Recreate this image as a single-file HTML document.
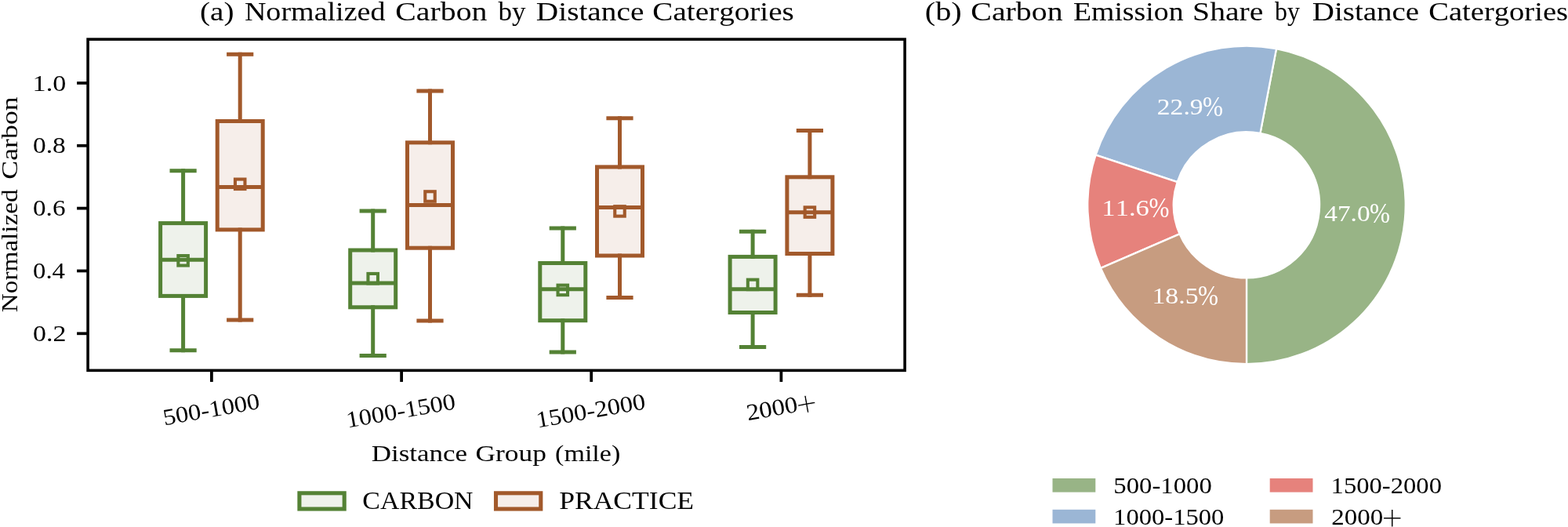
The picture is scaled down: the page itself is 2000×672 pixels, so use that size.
<!DOCTYPE html>
<html lang="en"><head><meta charset="utf-8"><title>Carbon by Distance Categories</title>
<style>html,body{margin:0;padding:0;background:#fff;}body{width:2000px;height:672px;overflow:hidden;}svg{display:block;}text{font-family:"Liberation Serif","DejaVu Serif",serif;word-spacing:0.09em;font-kerning:none;}</style></head><body>
<svg width="2000" height="672" viewBox="0 0 2000 672">
<rect x="0" y="0" width="2000" height="672" fill="#ffffff"/>
<g stroke="#548235" stroke-width="5.0" fill="none">
<rect x="204.60" y="284.60" width="58.00" height="92.80" fill="#EEF2EB" stroke-linejoin="miter"/>
<path d="M233.60 284.60V217.80M233.60 377.40V446.70" stroke-linecap="square"/>
<path d="M219.00 217.80H248.20M219.00 446.70H248.20" stroke-linecap="square"/>
<path d="M204.60 331.30H262.60" stroke-linecap="butt"/>
<rect x="227.35" y="326.05" width="12.5" height="12.5" stroke-width="4.1"/>
</g>
<g stroke="#A2592B" stroke-width="5.0" fill="none">
<rect x="277.20" y="154.50" width="58.00" height="138.40" fill="#F6EEEA" stroke-linejoin="miter"/>
<path d="M306.20 154.50V69.30M306.20 292.90V408.00" stroke-linecap="square"/>
<path d="M291.60 69.30H320.80M291.60 408.00H320.80" stroke-linecap="square"/>
<path d="M277.20 238.40H335.20" stroke-linecap="butt"/>
<rect x="299.95" y="228.55" width="12.5" height="12.5" stroke-width="4.1"/>
</g>
<g stroke="#548235" stroke-width="5.0" fill="none">
<rect x="446.70" y="319.00" width="58.00" height="72.80" fill="#EEF2EB" stroke-linejoin="miter"/>
<path d="M475.70 319.00V269.10M475.70 391.80V453.40" stroke-linecap="square"/>
<path d="M461.10 269.10H490.30M461.10 453.40H490.30" stroke-linecap="square"/>
<path d="M446.70 361.00H504.70" stroke-linecap="butt"/>
<rect x="469.45" y="348.95" width="12.5" height="12.5" stroke-width="4.1"/>
</g>
<g stroke="#A2592B" stroke-width="5.0" fill="none">
<rect x="519.50" y="181.80" width="58.00" height="134.40" fill="#F6EEEA" stroke-linejoin="miter"/>
<path d="M548.50 181.80V116.00M548.50 316.20V409.00" stroke-linecap="square"/>
<path d="M533.90 116.00H563.10M533.90 409.00H563.10" stroke-linecap="square"/>
<path d="M519.50 261.50H577.50" stroke-linecap="butt"/>
<rect x="542.25" y="244.25" width="12.5" height="12.5" stroke-width="4.1"/>
</g>
<g stroke="#548235" stroke-width="5.0" fill="none">
<rect x="688.80" y="335.50" width="58.00" height="73.20" fill="#EEF2EB" stroke-linejoin="miter"/>
<path d="M717.80 335.50V291.00M717.80 408.70V448.90" stroke-linecap="square"/>
<path d="M703.20 291.00H732.40M703.20 448.90H732.40" stroke-linecap="square"/>
<path d="M688.80 368.80H746.80" stroke-linecap="butt"/>
<rect x="711.55" y="363.65" width="12.5" height="12.5" stroke-width="4.1"/>
</g>
<g stroke="#A2592B" stroke-width="5.0" fill="none">
<rect x="761.50" y="212.90" width="58.00" height="113.10" fill="#F6EEEA" stroke-linejoin="miter"/>
<path d="M790.50 212.90V150.70M790.50 326.00V379.60" stroke-linecap="square"/>
<path d="M775.90 150.70H805.10M775.90 379.60H805.10" stroke-linecap="square"/>
<path d="M761.50 264.40H819.50" stroke-linecap="butt"/>
<rect x="784.25" y="263.15" width="12.5" height="12.5" stroke-width="4.1"/>
</g>
<g stroke="#548235" stroke-width="5.0" fill="none">
<rect x="931.10" y="327.40" width="58.00" height="71.10" fill="#EEF2EB" stroke-linejoin="miter"/>
<path d="M960.10 327.40V295.30M960.10 398.50V442.40" stroke-linecap="square"/>
<path d="M945.50 295.30H974.70M945.50 442.40H974.70" stroke-linecap="square"/>
<path d="M931.10 368.70H989.10" stroke-linecap="butt"/>
<rect x="953.85" y="356.65" width="12.5" height="12.5" stroke-width="4.1"/>
</g>
<g stroke="#A2592B" stroke-width="5.0" fill="none">
<rect x="1003.90" y="225.80" width="58.00" height="97.70" fill="#F6EEEA" stroke-linejoin="miter"/>
<path d="M1032.90 225.80V166.40M1032.90 323.50V376.20" stroke-linecap="square"/>
<path d="M1018.30 166.40H1047.50M1018.30 376.20H1047.50" stroke-linecap="square"/>
<path d="M1003.90 270.70H1061.90" stroke-linecap="butt"/>
<rect x="1026.65" y="264.35" width="12.5" height="12.5" stroke-width="4.1"/>
</g>
<g stroke="#000" stroke-width="3.75" fill="none">
<path d="M98.10 105.90H112.10"/>
<path d="M98.10 185.75H112.10"/>
<path d="M98.10 265.60H112.10"/>
<path d="M98.10 345.45H112.10"/>
<path d="M98.10 425.30H112.10"/>
<path d="M269.90 472.35V486.95"/>
<path d="M512.10 472.35V486.95"/>
<path d="M754.20 472.35V486.95"/>
<path d="M996.40 472.35V486.95"/>
</g>
<rect x="112.1" y="50.1" width="1042.00" height="422.25" fill="none" stroke="#000" stroke-width="3.6" stroke-linejoin="miter"/>
<text x="41.61" y="115.60" font-size="29.5" textLength="42.59" lengthAdjust="spacingAndGlyphs">1.0</text>
<text x="42.03" y="195.45" font-size="29.5" textLength="41.74" lengthAdjust="spacingAndGlyphs">0.8</text>
<text x="42.04" y="275.30" font-size="29.5" textLength="41.45" lengthAdjust="spacingAndGlyphs">0.6</text>
<text x="42.05" y="355.15" font-size="29.5" textLength="40.96" lengthAdjust="spacingAndGlyphs">0.4</text>
<text x="42.01" y="435.00" font-size="29.5" textLength="42.36" lengthAdjust="spacingAndGlyphs">0.2</text>
<text x="207.21" y="531.70" font-size="29.5" textLength="124.53" lengthAdjust="spacingAndGlyphs" transform="rotate(-10 269.8 522.0)">500-1000</text>
<text x="440.84" y="533.30" font-size="29.5" textLength="140.90" lengthAdjust="spacingAndGlyphs" transform="rotate(-10 512.1 523.6)">1000-1500</text>
<text x="682.94" y="533.30" font-size="29.5" textLength="140.90" lengthAdjust="spacingAndGlyphs" transform="rotate(-10 754.2 523.6)">1500-2000</text>
<text font-size="29.5" transform="translate(955.3 536.0) rotate(-10)"><tspan x="-1.45" y="0.00" textLength="65.90" lengthAdjust="spacingAndGlyphs">2000</tspan><tspan x="62.54" y="8.34" font-size="48.0" stroke="#ffffff" stroke-width="0.9" paint-order="fill stroke">+</tspan></text>
<text y="26.20" font-size="33.2"><tspan x="255.08" textLength="43.44" lengthAdjust="spacingAndGlyphs">(a)</tspan> <tspan x="311.90" textLength="179.56" lengthAdjust="spacingAndGlyphs">Normalized</tspan> <tspan x="504.37" textLength="117.03" lengthAdjust="spacingAndGlyphs">Carbon</tspan> <tspan x="635.50" textLength="35.14" lengthAdjust="spacingAndGlyphs">by</tspan> <tspan x="683.87" textLength="137.49" lengthAdjust="spacingAndGlyphs">Distance</tspan> <tspan x="832.39" textLength="180.42" lengthAdjust="spacingAndGlyphs">Catergories</tspan></text>
<text y="26.20" font-size="33.2"><tspan x="1179.83" textLength="46.94" lengthAdjust="spacingAndGlyphs">(b)</tspan> <tspan x="1238.37" textLength="117.24" lengthAdjust="spacingAndGlyphs">Carbon</tspan> <tspan x="1368.91" textLength="140.66" lengthAdjust="spacingAndGlyphs">Emission</tspan> <tspan x="1521.10" textLength="90.28" lengthAdjust="spacingAndGlyphs">Share</tspan> <tspan x="1626.00" textLength="31.92" lengthAdjust="spacingAndGlyphs">by</tspan> <tspan x="1673.88" textLength="136.22" lengthAdjust="spacingAndGlyphs">Distance</tspan> <tspan x="1822.17" textLength="177.98" lengthAdjust="spacingAndGlyphs">Catergories</tspan></text>
<text y="588.30" font-size="29.2"><tspan x="473.74" textLength="122.37" lengthAdjust="spacingAndGlyphs">Distance</tspan> <tspan x="606.45" textLength="90.54" lengthAdjust="spacingAndGlyphs">Group</tspan> <tspan x="708.10" textLength="83.19" lengthAdjust="spacingAndGlyphs">(mile)</tspan></text>
<text y="0.00" font-size="29.2" transform="translate(21.5 397.3) rotate(-90)"><tspan x="-0.96" textLength="156.96" lengthAdjust="spacingAndGlyphs">Normalized</tspan> <tspan x="168.63" textLength="105.41" lengthAdjust="spacingAndGlyphs">Carbon</tspan></text>
<rect x="381.9" y="628.8" width="57.3" height="20.2" fill="#EEF2EB" stroke="#548235" stroke-width="5.1"/>
<text x="462.36" y="649.30" font-size="31" textLength="141.22" lengthAdjust="spacingAndGlyphs">CARBON</text>
<rect x="632.5" y="628.8" width="57.3" height="20.2" fill="#F6EEEA" stroke="#A2592B" stroke-width="5.1"/>
<text x="713.18" y="649.30" font-size="31" textLength="171.90" lengthAdjust="spacingAndGlyphs">PRACTICE</text>
<g stroke="#ffffff" stroke-width="2.3" stroke-linejoin="miter">
<path d="M1590.00 464.15A202.75 202.75 0 0 0 1627.99 62.24L1607.44 170.00A93.05 93.05 0 0 1 1590.00 354.45Z" fill="#98B486"/>
<path d="M1627.99 62.24A202.75 202.75 0 0 0 1397.57 197.54L1501.69 232.09A93.05 93.05 0 0 1 1607.44 170.00Z" fill="#9BB6D5"/>
<path d="M1397.57 197.54A202.75 202.75 0 0 0 1403.93 341.92L1504.60 298.35A93.05 93.05 0 0 1 1501.69 232.09Z" fill="#E6827C"/>
<path d="M1403.93 341.92A202.75 202.75 0 0 0 1590.00 464.15L1590.00 354.45A93.05 93.05 0 0 1 1504.60 298.35Z" fill="#C79C80"/>
</g>
<text font-size="29.5" fill="#ffffff"><tspan x="1689.25" y="281.90" textLength="58.32" lengthAdjust="spacingAndGlyphs">47.0</tspan><tspan x="1747.04" y="283.60" font-size="35.0" textLength="25.93" lengthAdjust="spacingAndGlyphs">%</tspan></text>
<text font-size="29.5" fill="#ffffff"><tspan x="1475.82" y="146.30" textLength="58.75" lengthAdjust="spacingAndGlyphs">22.9</tspan><tspan x="1533.94" y="148.00" font-size="35.0" textLength="25.93" lengthAdjust="spacingAndGlyphs">%</tspan></text>
<text font-size="29.5" fill="#ffffff"><tspan x="1405.36" y="275.20" textLength="60.47" lengthAdjust="spacingAndGlyphs">11.6</tspan><tspan x="1465.54" y="276.90" font-size="35.0" textLength="25.93" lengthAdjust="spacingAndGlyphs">%</tspan></text>
<text font-size="29.5" fill="#ffffff"><tspan x="1469.43" y="387.40" textLength="59.19" lengthAdjust="spacingAndGlyphs">18.5</tspan><tspan x="1528.04" y="389.10" font-size="35.0" textLength="25.93" lengthAdjust="spacingAndGlyphs">%</tspan></text>
<rect x="1342.5" y="610.0" width="54.8" height="17.6" fill="#98B486"/>
<text x="1420.30" y="629.30" font-size="29.5" textLength="125.45" lengthAdjust="spacingAndGlyphs">500-1000</text>
<rect x="1342.5" y="649.8" width="54.8" height="17.6" fill="#9BB6D5"/>
<text x="1420.13" y="669.10" font-size="29.5" textLength="141.31" lengthAdjust="spacingAndGlyphs">1000-1500</text>
<rect x="1619.7" y="610.0" width="54.8" height="17.6" fill="#E6827C"/>
<text x="1697.63" y="629.30" font-size="29.5" textLength="141.36" lengthAdjust="spacingAndGlyphs">1500-2000</text>
<rect x="1619.7" y="649.8" width="54.8" height="17.6" fill="#C79C80"/>
<text font-size="29.5"><tspan x="1698.30" y="669.10" textLength="65.90" lengthAdjust="spacingAndGlyphs">2000</tspan><tspan x="1762.29" y="677.44" font-size="48.0" stroke="#ffffff" stroke-width="0.9" paint-order="fill stroke">+</tspan></text>
</svg></body></html>
